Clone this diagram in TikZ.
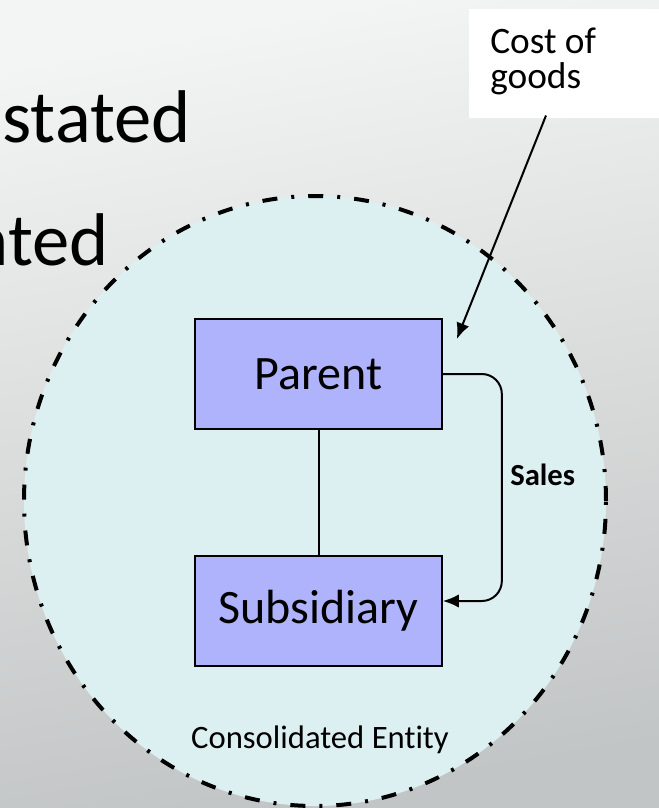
\documentclass[tikz,border=0pt]{standalone}
\usepackage{fontspec}
\setmainfont{Carlito}[Ligatures=NoCommon]
\usetikzlibrary{arrows.meta,positioning,shapes.geometric}
\definecolor{entityfill}{RGB}{220,240,242}
\definecolor{boxfill}{RGB}{175,179,252}
\definecolor{bgtop}{RGB}{243,244,244}
\definecolor{bgmid}{RGB}{220,222,222}
\definecolor{bgbottom}{RGB}{194,197,197}

\begin{document}
\begin{tikzpicture}[x=0.75pt,y=-0.75pt,
  company/.style={draw=black, line width=1.5pt, fill=boxfill, minimum width=185pt,
    minimum height=82.5pt, inner sep=0pt, font=\fontsize{36}{43}\selectfont},
  entity/.style={ellipse, draw=black, line width=3pt, fill=entityfill,
    dash pattern=on 11.25pt off 10.5pt on 2.25pt off 10.5pt,
    minimum width=436.5pt, minimum height=457.5pt, inner sep=0pt},
  flow/.style={line width=1.5pt, -{Latex[length=12pt,width=10pt]}},
  bigtext/.style={font=\fontsize{56}{67}\selectfont, inner sep=0pt},
  costtext/.style={font=\fontsize{28}{34}\selectfont, inner sep=0pt}]
\clip (0,0) rectangle (659,808);
\fill[bgmid] (0,0) rectangle (659,808);
\shade[top color=bgtop, bottom color=bgbottom, shading angle=10] (0,0) rectangle (659,808);
% slide text behind the diagram
\node[bigtext, anchor=base east] (stated) at (191,142) {stated};
\node[bigtext, anchor=base east] (nted) at (109,265) {nted};
% the group
\node[entity] (entity) at (315,501) {};
\node[company] (parent) at (318.5,374) {Parent};
\node[company, below=93.75pt of parent] (subsidiary) {Subsidiary};
\draw[line width=1.5pt] (parent) -- (subsidiary);
\draw[flow, rounded corners=15pt] (parent.east) -- ++(59,0) |- ([yshift=7.5pt]subsidiary.east);
\node[font=\fontsize{23}{28}\selectfont\bfseries, anchor=base west, inner sep=0pt] (sales) at (510,485) {Sales};
\node[font=\fontsize{24.5}{29}\selectfont, anchor=base, inner sep=0pt] (entitylbl) at (320,748) {Consolidated Entity};
% callout
\node[fill=white, minimum width=165pt, minimum height=81.75pt, anchor=north west, inner sep=0pt] (cost) at (469,9) {};
\node[costtext, anchor=base west] (costa) at (490,53) {Cost of};
\node[costtext, anchor=base west] (costb) at (490,88) {goods};
\coordinate (costend) at ([xshift=10.5pt,yshift=-15.75pt]parent.north east);
\draw[flow] (cost.south west) ++(77,-3) -- (costend);
\end{tikzpicture}
\end{document}
